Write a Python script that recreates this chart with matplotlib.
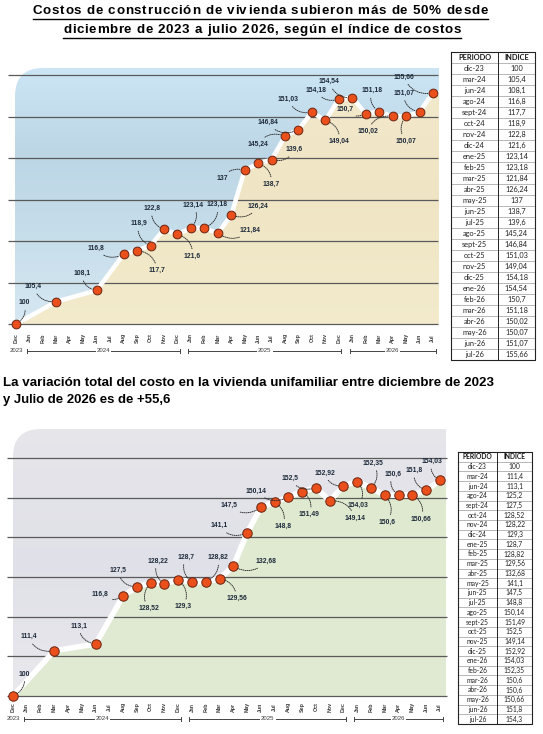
import matplotlib
matplotlib.use('Agg')
import matplotlib.pyplot as plt
import numpy as np
from matplotlib.transforms import blended_transform_factory
from matplotlib.path import Path
from matplotlib.patches import PathPatch
from matplotlib.colors import LinearSegmentedColormap
from matplotlib.font_manager import FontProperties

W, H = 543, 734

# ---------------- data ----------------
month_ticks = ["Dec", "Jan", "Feb", "Mar", "Apr", "May", "Jun", "Jul", "Aug", "Sep", "Oct", "Nov",
               "Dec", "Jan", "Feb", "Mar", "Apr", "May", "Jun", "Jul", "Aug", "Sep", "Oct", "Nov",
               "Dec", "Jan", "Feb", "Mar", "Apr", "May", "Jun", "Jul"]
years = ["2023", "2024", "2025", "2026"]

periods = ["dic-23", "mar-24", "jun-24", "ago-24", "sept-24", "oct-24", "nov-24", "dic-24",
           "ene-25", "feb-25", "mar-25", "abr-25", "may-25", "jun-25", "jul-25", "ago-25",
           "sept-25", "oct-25", "nov-25", "dic-25", "ene-26", "feb-26", "mar-26", "abr-26",
           "may-26", "jun-26", "jul-26"]

values1 = [100, 105.4, 108.1, 116.8, 117.7, 118.9, 122.8, 121.6, 123.14, 123.18, 121.84, 126.24,
           137, 138.7, 139.6, 145.24, 146.84, 151.03, 149.04, 154.18, 154.54, 150.7, 151.18,
           150.02, 150.07, 151.07, 155.66]
labels1 = ["100", "105,4", "108,1", "116,8", "117,7", "118,9", "122,8", "121,6", "123,14", "123,18",
           "121,84", "126,24", "137", "138,7", "139,6", "145,24", "146,84", "151,03", "149,04",
           "154,18", "154,54", "150,7", "151,18", "150,02", "150,07", "151,07", "155,66"]
table1 = ["100", "105,4", "108,1", "116,8", "117,7", "118,9", "122,8", "121,6", "123,14", "123,18",
          "121,84", "126,24", "137", "138,7", "139,6", "145,24", "146,84", "151,03", "149,04",
          "154,18", "154,54", "150,7", "151,18", "150,02", "150,07", "151,07", "155,66"]

values2 = [100, 111.4, 113.1, 125.2, 127.5, 128.52, 128.22, 129.3, 128.7, 128.82, 129.56, 132.68,
           141.1, 147.5, 148.8, 150.14, 151.49, 152.5, 149.14, 152.92, 154.03, 152.35, 150.6,
           150.6, 150.66, 151.8, 154.3]
labels2 = ["100", "111,4", "113,1", "116,8", "127,5", "128,52", "128,22", "129,3", "128,7", "128,82",
           "129,56", "132,68", "141,1", "147,5", "148,8", "150,14", "151,49", "152,5", "149,14",
           "152,92", "154,03", "152,35", "150,6", "150,6", "150,66", "151,8", "154,03"]
table2 = ["100", "111,4", "113,1", "125,2", "127,5", "128,52", "128,22", "129,3", "128,7", "128,82",
          "129,56", "132,68", "141,1", "147,5", "148,8", "150,14", "151,49", "152,5", "149,14",
          "152,92", "154,03", "152,35", "150,6", "150,6", "150,66", "151,8", "154,3"]

grid_values = [100, 110, 120, 130, 140, 150, 160]

title_lines = ["Costos de construcción de vivienda subieron más de 50% desde",
               "diciembre de 2023 a julio 2026, según el índice de costos"]
subtitle_lines = ["La variación total del costo en la vivienda unifamiliar entre diciembre de 2023",
                  "y Julio de 2026 es de +55,6"]
table_header = ["PERIODO", "INDICE"]

# ---------------- layout (pixels) ----------------
offsets1 = [(8, -21), (-23, -15), (-15, -17), (-28, -6), (20, 20), (-12, -22), (-12, -21), (15, 22),
            (2, -23), (13, -23), (32, -3), (27, -9), (-22, 8), (13, 21), (23, -10), (-27, 8),
            (-31, -7), (-24, -13), (14, 21), (-23, -9), (-23, -16), (-21, -4), (-7, -21), (-25, 15),
            (0, 25), (-16, -19), (-29, -16)]
offsets2 = [(11, -22), (-26, -14), (-17, -18), (-23, -2), (-19, -16), (-2, 26), (-7, -23), (5, 27),
            (-6, -25), (12, -24), (17, 20), (33, -5), (-28, -7), (-32, -2), (8, 24), (-32, -6),
            (7, 23), (-26, -9), (25, 17), (-19, -13), (1, 24), (2, -25), (2, 27), (-6, -21),
            (9, 24), (-12, -20), (-8, -19)]

month_num = {'ene': 1, 'feb': 2, 'mar': 3, 'abr': 4, 'may': 5, 'jun': 6, 'jul': 7, 'ago': 8,
             'sept': 9, 'oct': 10, 'nov': 11, 'dic': 12}


def period_index(p):
    m, y = p.split('-')
    return (int(y) - 23) * 12 + month_num[m] - 12


xs = [period_index(p) for p in periods]

fig = plt.figure(figsize=(W / 100, H / 100), dpi=100)
fig.patch.set_facecolor('white')
axp = fig.add_axes([0, 0, 1, 1])
axp.set_xlim(0, W)
axp.set_ylim(H, 0)
axp.axis('off')
PX = axp.transData

TXT = '#1d2a3a'
FONT = ['Liberation Sans', 'DejaVu Sans']


def rounded_rect_path(l, t, r, b, rad):
    verts = [(l, b), (l, t + rad), (l, t), (l + rad, t), (r, t), (r, b), (l, b)]
    codes = [Path.MOVETO, Path.LINETO, Path.CURVE3, Path.CURVE3, Path.LINETO, Path.LINETO,
             Path.CLOSEPOLY]
    return Path(verts, codes)


def draw_chart(cfg, xs, vals, labels, offsets):
    l, t, r, b = cfg['axes_px']
    x0, ppm, y100, ppu = cfg['x0'], cfg['ppm'], cfg['y100'], cfg['ppu']
    ax = fig.add_axes([l / W, 1 - b / H, (r - l) / W, (b - t) / H])
    ax.axis('off')
    dx = lambda px: (px - x0) / ppm
    dy = lambda py: 100 + (y100 - py) / ppu
    xlim = (dx(l), dx(r))
    ylim = (dy(b), dy(t))

    il, it, ir, ib = cfg['img']
    clip = PathPatch(rounded_rect_path(il, it, ir, ib, 28), transform=PX, fc='none', ec='none')
    ax.add_patch(clip)

    xf = np.array([dx(il)] + list(xs) + [dx(ir)], dtype=float)
    yf = np.array([vals[0]] + list(vals) + [vals[-1]], dtype=float)

    sky_cmap = LinearSegmentedColormap.from_list('sky', cfg['sky'])
    grad = np.linspace(0, 1, 256).reshape(-1, 1)
    ext = [dx(il), dx(ir), dy(ib), dy(it)]
    im = ax.imshow(grad, cmap=sky_cmap, extent=ext, aspect='auto', origin='upper', zorder=0,
                   interpolation='bilinear')
    im.set_clip_path(clip)

    gpoly = np.vstack([np.column_stack([xf, yf]), [[xf[-1], 100], [xf[0], 100]]])
    gpatch = PathPatch(Path(gpoly), transform=ax.transData, fc='none', ec='none')
    ax.add_patch(gpatch)
    g_cmap = LinearSegmentedColormap.from_list('ground', cfg['ground'])
    im2 = ax.imshow(grad, cmap=g_cmap, extent=ext, aspect='auto', origin='upper', zorder=0.5,
                    interpolation='bilinear')
    im2.set_clip_path(gpatch)

    gl, gr = cfg['grid_x']
    ax.hlines(grid_values, dx(gl), dx(gr), color=cfg['grid_color'], lw=0.9, zorder=1)

    ax.plot(xf, yf, color='white', lw=cfg['line_w'], solid_joinstyle='round',
            solid_capstyle='butt', zorder=2)
    ax.plot(xs, vals, 'o', ms=cfg['ms'], mfc='#e9501b', mec='#6a2410', mew=0.7, zorder=4,
            clip_on=False)

    for x, v, lab, (ox, oy) in zip(xs, vals, labels, offsets):
        rad = 0.4 if ox * oy > 0 else -0.4
        ax.annotate(lab, xy=(x, v), xytext=(ox * 0.72, -oy * 0.72), textcoords='offset points',
                    ha='center', va='center', fontsize=cfg['lab_fs'], fontweight='bold',
                    color=TXT, family=FONT, zorder=5, annotation_clip=False,
                    arrowprops=dict(arrowstyle='-', ls=(0, (1, 1.2)), lw=0.65, color='#2a2a2a',
                                    connectionstyle='arc3,rad=%.2f' % rad, shrinkA=1,
                                    shrinkB=3.5))

    ax.set_xlim(*xlim)
    ax.set_ylim(*ylim)

    bt = blended_transform_factory(ax.transData, PX)
    for i, m in enumerate(month_ticks):
        axp.text(i, cfg['months_y'], m, transform=bt, rotation=90, ha='center', va='center',
                 fontsize=3.8, fontweight='bold', color='#3a3a3a', family=FONT)
    yy = cfg['years_y']
    axp.text(0, yy, years[0], transform=bt, ha='center', va='center', fontsize=4.3,
             color='#3a3a3a', family=FONT)
    starts = [1, 13, 25]
    ends = [12, 24, 31]
    for yr, s, e in zip(years[1:], starts, ends):
        a, z = s - 0.2, e + 0.2
        axp.plot([a, z], [yy, yy], transform=bt, color='#444', lw=0.7)
        axp.plot([a, a], [yy - 1.8, yy + 1.8], transform=bt, color='#444', lw=0.7)
        axp.plot([z, z], [yy - 1.8, yy + 1.8], transform=bt, color='#444', lw=0.7)
        axp.text((a + z) / 2, yy, yr, transform=bt, ha='center', va='center', fontsize=4.3,
                 color='#3a3a3a', family=FONT,
                 bbox=dict(fc='white', ec='none', pad=0.8))
    return ax


chart1 = dict(axes_px=(0, 60, 445, 332), x0=16, ppm=13.45, y100=324, ppu=4.15,
              img=(15, 68, 439, 324), grid_x=(8, 438), grid_color='#5a5a5a',
              months_y=338, years_y=351, line_w=3.2, ms=6.3, lab_fs=4.9,
              sky=[(0.80, 0.90, 0.96), (0.74, 0.84, 0.90), (0.78, 0.87, 0.92), (0.84, 0.91, 0.95)],
              ground=[(0.95, 0.91, 0.80), (0.94, 0.90, 0.77), (0.95, 0.92, 0.80)])
chart2 = dict(axes_px=(0, 420, 452, 704), x0=13, ppm=13.77, y100=696, ppu=3.97,
              img=(13, 429, 446, 696), grid_x=(7, 447), grid_color='#5a5a5a',
              months_y=707, years_y=719, line_w=4.0, ms=6.8, lab_fs=4.9,
              sky=[(0.90, 0.90, 0.92), (0.88, 0.88, 0.91), (0.91, 0.91, 0.93)],
              ground=[(0.87, 0.91, 0.81), (0.88, 0.92, 0.82), (0.88, 0.92, 0.83)])

draw_chart(chart1, xs, values1, labels1, offsets1)
draw_chart(chart2, xs, values2, labels2, offsets2)


# ---------------- tables ----------------
def draw_table(l, mid, r, t, b, rows_left, rows_right, fs):
    n = len(rows_left) + 1
    rh = (b - t) / n
    for k in range(1, n):
        axp.plot([l, r], [t + k * rh, t + k * rh], color='#9a9a9a', lw=0.5)
    axp.plot([l, r, r, l, l], [t, t, b, b, t], color='#222', lw=0.8)
    axp.plot([mid, mid], [t, b], color='#222', lw=0.7)
    axp.text((l + mid) / 2, t + rh / 2, table_header[0], ha='center', va='center', fontsize=fs,
             fontweight='bold', color='#111', family=['Lato', 'DejaVu Sans'])
    axp.text((mid + r) / 2, t + rh / 2, table_header[1], ha='center', va='center', fontsize=fs,
             fontweight='bold', color='#111', family=['Lato', 'DejaVu Sans'])
    for k, (a, c) in enumerate(zip(rows_left, rows_right)):
        yc = t + (k + 1.5) * rh
        axp.text((l + mid) / 2, yc, a, ha='center', va='center', fontsize=fs, color='#222',
                 family=['Lato', 'DejaVu Sans'])
        axp.text((mid + r) / 2, yc, c, ha='center', va='center', fontsize=fs, color='#222',
                 family=['Lato', 'DejaVu Sans'])


draw_table(451, 498, 535, 52, 360, periods, table1, 5.3)
draw_table(458, 497, 532, 452, 724, periods, table2, 4.9)

# ---------------- titles ----------------
renderer = fig.canvas.get_renderer()


def spaced_text(xc, y, s, width, fs, underline=False):
    """Bold text with extra letter spacing, centred at xc and spanning `width` pixels."""
    prop = FontProperties(family='Liberation Sans', weight='bold', size=fs)
    adv = []
    for ch in s:
        w, _, _ = renderer.get_text_width_height_descent(ch, prop, ismath=False)
        if ch == ' ':
            w = fs * 100 / 72 * 0.278
        adv.append(w)
    natural = sum(adv)
    extra = (width - natural) / (len(s) - 1)
    x = xc - width / 2
    for ch, w in zip(s, adv):
        if ch != ' ':
            axp.text(x, y, ch, ha='left', va='center', fontproperties=prop, color='black')
        x += w + extra
    if underline:
        axp.plot([xc - width / 2, xc + width / 2], [y + 8, y + 8], color='black', lw=1.0)


def fit_text(x, y, s, width, ha, fs0):
    t = axp.text(x, y, s, ha=ha, va='center', fontsize=fs0, fontweight='bold', color='black',
                 family=FONT)
    w = t.get_window_extent(renderer=renderer).width
    t.set_fontsize(fs0 * width / w)
    return t


spaced_text(260, 11, title_lines[0], 455, 9.6, underline=True)
spaced_text(262, 30, title_lines[1], 398, 9.6, underline=True)
fit_text(3, 383, subtitle_lines[0], 492, 'left', 9)
fit_text(3, 400, subtitle_lines[1], 168, 'left', 9)

fig.savefig('out.png', dpi=100, facecolor='white')
